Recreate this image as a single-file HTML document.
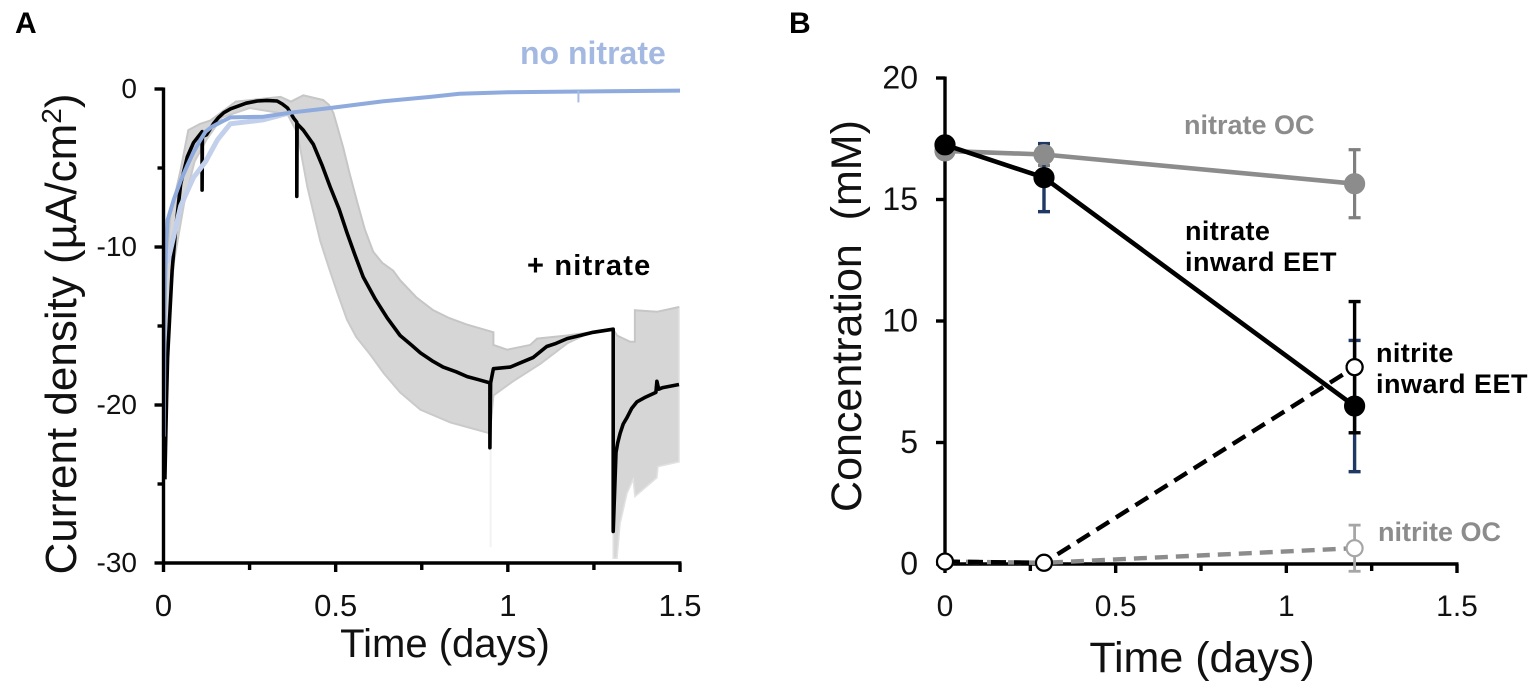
<!DOCTYPE html>
<html lang="en"><head><meta charset="utf-8"><title>Current density and concentration</title>
<style>html,body{margin:0;padding:0;background:#fff}svg{display:block}text{font-family:"Liberation Sans",sans-serif;white-space:pre}</style>
</head><body>
<svg id="fig" width="1535" height="689" viewBox="0 0 1535 689" xmlns="http://www.w3.org/2000/svg">
<text x="15" y="33" font-size="30" font-weight="bold">A</text>
<text x="789" y="33" font-size="30" font-weight="bold">B</text>
<text x="445" y="657" font-size="40" text-anchor="middle" fill="#111">Time (days)</text>
<text transform="translate(76,334) rotate(-90)" font-size="44" text-anchor="middle" fill="#111">Current density (µA/cm<tspan font-size="28" dy="-15">2</tspan><tspan dy="15">)</tspan></text>
<text x="520" y="64" font-size="32" font-weight="bold" fill="#a4b9e2">no nitrate</text>
<text x="527" y="275" font-size="29" font-weight="bold" letter-spacing="1.2" fill="#000">+ nitrate</text>
<text x="1202" y="672" font-size="43" text-anchor="middle" fill="#111">Time (days)</text>
<text transform="translate(861,316) rotate(-90)" font-size="43" text-anchor="middle" fill="#111">Concentration  (mM)</text>
<text x="1184" y="134" font-size="27" font-weight="bold" fill="#8c8c8c">nitrate OC</text>
<text x="1185" y="240" font-size="27" font-weight="bold" letter-spacing="0.4">nitrate</text>
<text x="1185" y="271" font-size="27" font-weight="bold" letter-spacing="0.5">inward EET</text>
<text x="1376" y="362" font-size="27" font-weight="bold" letter-spacing="0.4">nitrite</text>
<text x="1376" y="393" font-size="27" font-weight="bold" letter-spacing="0.5">inward EET</text>
<text x="1378" y="541" font-size="27" font-weight="bold" fill="#8c8c8c">nitrite OC</text>
</svg>
<script>
// Panel A data
const bandUpperT = [0.002,0.006,0.02,0.05,0.072,0.107,0.136,0.21,0.34,0.37,0.406,0.464,0.48,0.493,0.505,0.522,0.54,0.563,0.585,0.609,0.635,0.667,0.687,0.735,0.783,0.83,0.88,0.958,0.958,0.998,1.065,1.085,1.172,1.306,1.317,1.355,1.369,1.369,1.433,1.497];
const bandUpperV = [-24,-12,-8,-5.1,-2.6,-2.2,-2,-0.8,-0.5,-0.8,-0.4,-0.7,-1,-1.5,-2.4,-3.7,-5.3,-7.2,-8.9,-10.3,-11,-11.5,-12.1,-13.2,-14,-14.5,-14.9,-15.4,-16.2,-16.5,-16.2,-15.8,-15.6,-15.2,-15.6,-16,-16,-14,-14.1,-13.8];
const bandLowerT = [0.002,0.012,0.03,0.06,0.09,0.125,0.17,0.25,0.36,0.389,0.418,0.455,0.48,0.505,0.533,0.56,0.6,0.64,0.687,0.746,0.833,0.948,0.958,1.015,1.094,1.172,1.23,1.306,1.306,1.317,1.326,1.346,1.364,1.369,1.433,1.436,1.497];
const bandLowerV = [-24,-16,-11,-7.2,-4.6,-3.2,-1.8,-1.2,-1.6,-2.8,-6.2,-9.6,-11.3,-12.9,-14.6,-15.7,-16.8,-18,-19.2,-20.3,-21.1,-21.8,-19.4,-18.5,-17.4,-16.1,-15.5,-15.2,-29.7,-29.7,-27.5,-25.6,-24.7,-25.8,-24.6,-23.9,-23.6];
const blackT = [0.004,0.006,0.009,0.012,0.018,0.025,0.035,0.05,0.069,0.087,0.112,0.112,0.113,0.125,0.145,0.16,0.175,0.195,0.214,0.24,0.272,0.3,0.33,0.345,0.36,0.378,0.387,0.387,0.388,0.406,0.435,0.46,0.484,0.51,0.533,0.556,0.58,0.615,0.65,0.687,0.72,0.746,0.78,0.812,0.85,0.882,0.915,0.948,0.948,0.95,0.958,1.007,1.04,1.073,1.113,1.14,1.172,1.21,1.248,1.306,1.306,1.314,1.319,1.326,1.335,1.346,1.36,1.375,1.4,1.43,1.433,1.438,1.45,1.497];
const blackV = [-24.7,-22.5,-19.5,-17,-14.4,-11.5,-8.9,-6,-4.3,-3.4,-2.7,-6.4,-3,-2.9,-2.2,-1.8,-1.5,-1.25,-1.1,-0.9,-0.76,-0.72,-0.76,-0.95,-1.2,-1.85,-2.1,-6.8,-2.2,-2.6,-3.5,-4.8,-6.2,-7.6,-9.1,-10.5,-11.9,-13.3,-14.5,-15.6,-16.2,-16.7,-17.2,-17.6,-17.9,-18.2,-18.4,-18.6,-22.7,-18.6,-17.7,-17.6,-17.3,-17,-16.3,-16.1,-15.8,-15.6,-15.4,-15.2,-28,-23,-22.4,-21.8,-21.2,-20.8,-20.2,-19.8,-19.5,-19.2,-18.5,-19,-18.9,-18.7];
const blueT = [0.001,0.003,0.007,0.012,0.03,0.05,0.068,0.087,0.105,0.122,0.14,0.157,0.175,0.194,0.29,0.368,0.484,0.63,0.775,0.86,1,1.25,1.5];
const blueV = [-22,-14,-10,-8.3,-7,-5.8,-4.9,-4,-3.3,-2.7,-2.4,-2.2,-2,-1.8,-1.75,-1.5,-1.2,-0.8,-0.5,-0.3,-0.2,-0.15,-0.1];
const blueErrT = [0.012,0.05,0.087,0.122,0.157,0.194,0.29,0.368];
const blueErrV = [-11,-7.4,-5.6,-4.6,-3.2,-2.2,-1.95,-1.5];
const xTicksA = [0,0.25,0.5,0.75,1,1.25,1.5];
const xLabelsA = ["0","","0.5","","1","","1.5"];
const yTicksA = [0,-5,-10,-15,-20,-25,-30];
const yLabelsA = ["0","","-10","","-20","","-30"];
// Panel B data
const timesB = [0,0.29,1.2];
const nitrateOC = [17,16.85,15.65];
const nitrateOCErr = [0.1,0.45,1.4];
const nitrateEET = [17.25,15.9,6.5];
const nitrateEETErr = [0.1,1.4,2.7];
const nitriteEET = [0.1,0.05,8.1];
const nitriteEETErr = [0,0,2.7];
const nitriteOC = [0.1,0.05,0.65];
const nitriteOCErr = [0,0,0.95];
const xTicksB = [0,0.25,0.5,0.75,1,1.25,1.5];
const xLabelsB = ["0","","0.5","","1","","1.5"];
const yTicksB = [0,5,10,15,20];
const yLabelsB = ["0","5","10","15","20"];

const NS = "http://www.w3.org/2000/svg";
const svg = document.getElementById("fig");
function make(tag, attrs, parent) {
  const el = document.createElementNS(NS, tag);
  for (const k in attrs) el.setAttribute(k, attrs[k]);
  (parent || svg).appendChild(el);
  return el;
}
const xA = t => 163.5 + t * (680 - 163.5) / 1.5;
const yA = v => 89 - v * (563 - 89) / 30;
const xB = t => 945 + t * (1457 - 945) / 1.5;
const yB = v => 564 - v * (564 - 78) / 20;
function pts(ts, vs, fx, fy) { return ts.map((t, i) => fx(t).toFixed(1) + "," + fy(vs[i]).toFixed(1)).join(" "); }

// Panel A marks
const band = make("polygon", {points: pts(bandUpperT, bandUpperV, xA, yA) + " " + pts(bandLowerT.slice().reverse(), bandLowerV.slice().reverse(), xA, yA), fill: "#d6d6d6", stroke: "#e2e2e2", "stroke-width": 1.5});


const edgeU = make("polyline", {points: pts(bandUpperT, bandUpperV, xA, yA), fill: "none", stroke: "#c6c6c6", "stroke-width": 2});


const edgeL = make("polyline", {points: pts(bandLowerT.slice(0, 27), bandLowerV.slice(0, 27), xA, yA), fill: "none", stroke: "#cacaca", "stroke-width": 2});


const faint = make("line", {x1: xA(0.95), x2: xA(0.95), y1: yA(-22.7), y2: yA(-29), stroke: "#f2f2f2", "stroke-width": 2});


const blackLine = make("polyline", {points: pts(blackT, blackV, xA, yA), fill: "none", stroke: "#000", "stroke-width": 3.6, "stroke-linejoin": "round"});


const blueErr = make("polyline", {points: pts(blueErrT, blueErrV, xA, yA), fill: "none", stroke: "#c3d0ec", "stroke-width": 5});


const blueLine = make("polyline", {points: pts(blueT, blueV, xA, yA), fill: "none", stroke: "#8faadc", "stroke-width": 4, "stroke-linejoin": "round"});


const blueBar = make("line", {x1: xA(1.205), x2: xA(1.205), y1: yA(-0.1), y2: yA(-0.85), stroke: "#a9bce3", "stroke-width": 2});



function axes(prefix, fx, fy, xT, xL, yT, yL, xBase, yBase, tickSize, xLabelY, xFont, yFont, yLabelX) {
  const g = make("g", {stroke: "#000", "stroke-width": 3.4, fill: "none"});
  
  
  const xa = make("line", {x1: fx(xT[0]) - 1.5, x2: fx(xT[xT.length - 1]) + 1.5, y1: fy(xBase), y2: fy(xBase)}, g);
  
  
  const ya = make("line", {x1: fx(yBase), x2: fx(yBase), y1: Math.min(...yT.map(fy)) - 1.5, y2: Math.max(...yT.map(fy)) + 1.5}, g);
  
  
  xT.forEach((t, i) => {
    const major = xL[i] !== "";
    const tk = make("line", {x1: fx(t), x2: fx(t), y1: fy(xBase), y2: fy(xBase) + (major ? tickSize : tickSize - 2)}, g);
    
    
    if (major) {
      const lb = make("text", {x: fx(t), y: xLabelY, "font-size": xFont, "text-anchor": "middle", fill: "#111", stroke: "none"});
      
      
      lb.textContent = xL[i];
    }
  });
  yT.forEach((v, i) => {
    const major = yL[i] !== "";
    const tk = make("line", {x1: fx(yBase) - (major ? tickSize : tickSize - 3), x2: fx(yBase), y1: fy(v), y2: fy(v)}, g);
    
    
    if (major) {
      const lb = make("text", {x: yLabelX, y: fy(v) + yFont * 0.36 - 1, "font-size": yFont, "text-anchor": "end", fill: "#111", stroke: "none"});
      
      
      lb.textContent = yL[i];
    }
  });
}
axes("panel-a", xA, yA, xTicksA, xLabelsA, yTicksA, yLabelsA, -30, 0, 9, 616, 31, 28, 137);
axes("panel-b", xB, yB, xTicksB, xLabelsB, yTicksB, yLabelsB, 0, 0, 9, 616, 30, 32, 918);

// Panel B marks
function errorBars(name, vals, errs, color, width) {
  timesB.forEach((t, i) => {
    if (errs[i] <= 0) return;
    const s = make("line", {x1: xB(t), x2: xB(t), y1: yB(vals[i] + errs[i]), y2: yB(vals[i] - errs[i]), stroke: color, "stroke-width": width});
    
    
    [1, -1].forEach(d => {
      const c = make("line", {x1: xB(t) - 6, x2: xB(t) + 6, y1: yB(vals[i] + d * errs[i]), y2: yB(vals[i] + d * errs[i]), stroke: color, "stroke-width": width});
      
      
    });
  });
}
function series(name, vals, color, width, dash, fill, r, mstroke) {
  const a = {points: pts(timesB, vals, xB, yB), fill: "none", stroke: color, "stroke-width": width};
  if (dash) a["stroke-dasharray"] = dash;
  const l = make("polyline", a);
  
  
  timesB.forEach((t, i) => {
    const c = make("circle", {cx: xB(t), cy: yB(vals[i]), r: r, fill: fill, stroke: mstroke, "stroke-width": 2.2});
    
    
  });
}
errorBars("nitrate-oc", nitrateOC, nitrateOCErr, "#7f7f7f", 3.2);
errorBars("nitrate-eet", nitrateEET, nitrateEETErr, "#1f3864", 3.4);
errorBars("nitrite-eet", nitriteEET, nitriteEETErr, "#000", 3.4);
errorBars("nitrite-oc", nitriteOC, nitriteOCErr, "#a6a6a6", 2.8);
series("nitrite-oc", nitriteOC, "#8c8c8c", 4.4, "13 8", "#fff", 8, "#a6a6a6");
series("nitrite-eet", nitriteEET, "#000", 4.4, "15 8", "#fff", 8, "#000");
series("nitrate-oc", nitrateOC, "#8c8c8c", 4.6, "", "#8c8c8c", 9.5, "#8c8c8c");
series("nitrate-eet", nitrateEET, "#000", 4.6, "", "#000", 9.5, "#000");
// Redraw the open marker at t=1.2 over the nitrate line
const finalOpenPoint = make("circle", {cx: xB(timesB[2]), cy: yB(nitriteEET[2]), r: 8, fill: "#fff", stroke: "#000", "stroke-width": 2.2});


</script>
</body></html>
